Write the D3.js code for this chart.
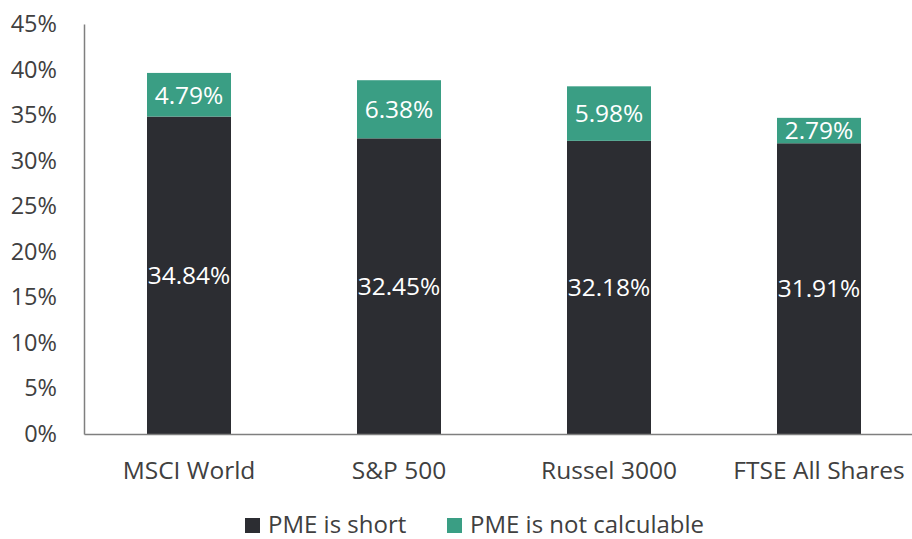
<!DOCTYPE html>
<html>
<head>
<meta charset="utf-8">
<script src="https://cdn.jsdelivr.net/npm/d3@7"></script>
<style>
  body { margin: 0; background: #fff; overflow: hidden; }
  text { font-family: "Open Sans", sans-serif; }
</style>
</head>
<body>
<script>
const categories = ["MSCI World", "S&P 500", "Russel 3000", "FTSE All Shares"];
const short = [34.84, 32.45, 32.18, 31.91];
const notCalc = [4.79, 6.38, 5.98, 2.79];
const yTicks = [0, 5, 10, 15, 20, 25, 30, 35, 40, 45];
const seriesNames = ["PME is short", "PME is not calculable"];
const colors = ["#2c2d32", "#3a9e84"];

const w = 912, h = 539;
const svg = d3.select("body").append("svg")
  .attr("width", w)
  .attr("height", h);

// plot area runs a little past the right edge of the picture
const x = d3.scaleBand().domain(categories).range([84, 924]).paddingInner(0.6).paddingOuter(0.3);
const y = d3.scaleLinear().domain([0, 45]).range([434, 24]);

// y axis
const yAxis = svg.append("g")
  .attr("transform", "translate(84,0)")
  .call(d3.axisLeft(y).tickValues(yTicks).tickSize(0).tickPadding(27).tickFormat(d => d + "%"));
yAxis.select(".domain").attr("stroke", "#7f7f7f").attr("stroke-width", 1.5);
yAxis.selectAll("text").attr("font-size", 23.5).attr("fill", "#404040");

// bars
const rows = categories.map((c, i) => ({ cat: c, a: short[i], b: notCalc[i] }));

svg.selectAll("rect.short").data(rows).enter().append("rect")
  .attr("class", "short")
  .attr("x", d => x(d.cat))
  .attr("width", x.bandwidth())
  .attr("y", d => y(d.a))
  .attr("height", d => y(0) - y(d.a))
  .attr("fill", colors[0]);

svg.selectAll("rect.nc").data(rows).enter().append("rect")
  .attr("class", "nc")
  .attr("x", d => x(d.cat))
  .attr("width", x.bandwidth())
  .attr("y", d => y(d.a + d.b))
  .attr("height", d => y(d.a) - y(d.a + d.b))
  .attr("fill", colors[1]);

svg.selectAll("text.lblA").data(rows).enter().append("text")
  .attr("x", d => x(d.cat) + x.bandwidth() / 2)
  .attr("y", d => y(d.a / 2))
  .attr("dy", "0.36em")
  .attr("text-anchor", "middle")
  .attr("font-size", 24.5)
  .attr("fill", "#fff")
  .text(d => d.a.toFixed(2) + "%");

svg.selectAll("text.lblB").data(rows).enter().append("text")
  .attr("x", d => x(d.cat) + x.bandwidth() / 2)
  .attr("y", d => y(d.a + d.b / 2))
  .attr("dy", "0.36em")
  .attr("text-anchor", "middle")
  .attr("font-size", 24.5)
  .attr("fill", "#fff")
  .text(d => d.b.toFixed(2) + "%");

// x axis
const xAxis = svg.append("g")
  .attr("transform", "translate(0,434)")
  .call(d3.axisBottom(x).tickSize(0).tickPadding(28));
xAxis.select(".domain").attr("stroke", "#7f7f7f").attr("stroke-width", 1.5);
xAxis.selectAll("text").attr("font-size", 24.5).attr("fill", "#404040");

// legend
const legend = svg.append("g");
const legX = [245, 447];
seriesNames.forEach((n, i) => {
  legend.append("rect")
    .attr("x", legX[i]).attr("y", 518)
    .attr("width", 15).attr("height", 15)
    .attr("fill", colors[i]);
  legend.append("text")
    .attr("x", legX[i] + 23).attr("y", 533)
    .attr("font-size", 24)
    .attr("fill", "#404040")
    .text(n);
});
</script>
</body>
</html>
